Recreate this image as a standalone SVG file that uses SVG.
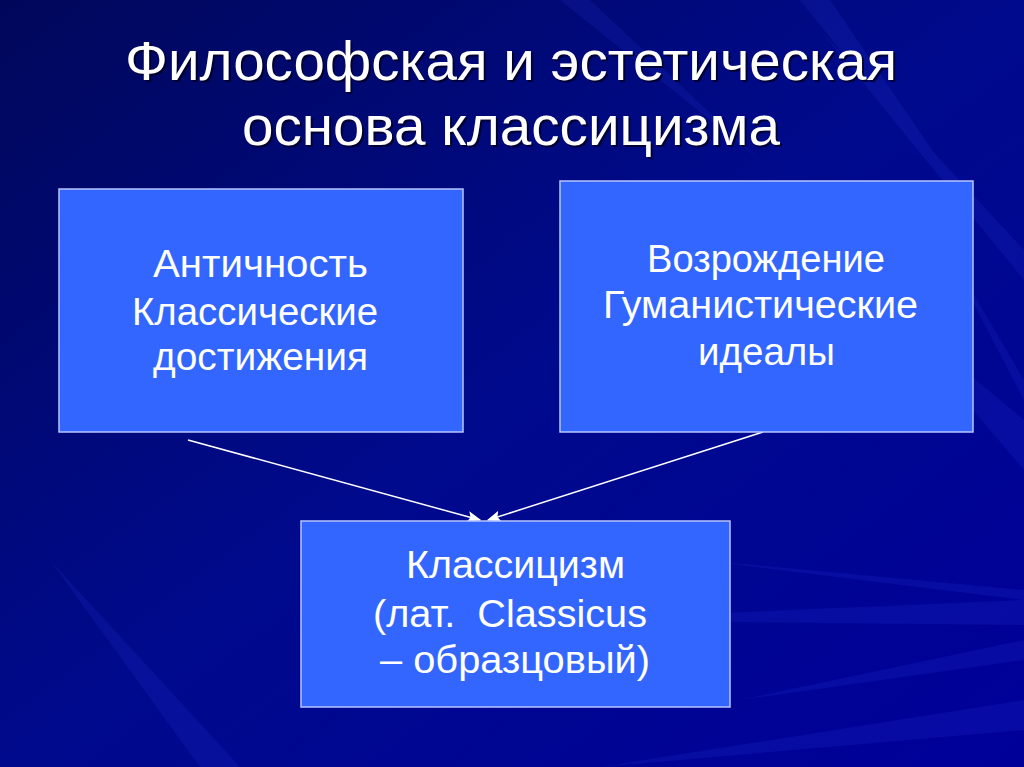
<svg xmlns="http://www.w3.org/2000/svg" width="1024" height="767" viewBox="0 0 1024 767">
<defs>
<linearGradient id="bg" x1="0" y1="0" x2="1" y2="1">
<stop offset="0" stop-color="#00075a"/>
<stop offset="0.5" stop-color="#000a8c"/>
<stop offset="1" stop-color="#000099"/>
</linearGradient>
<marker id="ah2" viewBox="0 0 10 10" refX="9" refY="5" markerWidth="14" markerHeight="14" markerUnits="userSpaceOnUse" orient="auto">
<path d="M0,1 L10,5 L0,9 L2,5 Z" fill="#ffffff"/>
</marker>
</defs>
<style>
.box{fill:#3366ff;stroke:#b8c4ff;stroke-width:1.5}
.t{font-family:"Liberation Sans",Arial,sans-serif;fill:#ffffff;text-anchor:middle}
.title{font-size:55px}
.sh{fill:#000020;opacity:0.8}
.body{font-size:38px}
.conn{stroke:#ffffff;stroke-width:1.5;fill:none}
.streak{fill:#3a4cff}
</style>
<rect width="1024" height="767" fill="url(#bg)"/>
<g id="background-streaks" opacity="0.12">
<polygon class="streak" points="1024,600 1024,625 560,620"/>
<polygon class="streak" points="1024,590 1024,600 700,560"/>
<polygon class="streak" points="1024,640 1024,660 740,700"/>
<polygon class="streak" points="1024,420 1024,470 880,300"/>
<polygon class="streak" points="1024,380 1024,400 930,220"/>
<polygon class="streak" points="1024,250 1024,280 820,30"/>
<polygon class="streak" points="800,0 830,0 1000,250"/>
<polygon class="streak" points="560,0 590,0 760,160"/>
<polygon class="streak" points="1024,700 1024,730 600,767"/>
<polygon class="streak" points="200,767 240,767 50,560"/>
</g>
<g id="title">
<text class="t title sh" x="513" y="82" textLength="772" lengthAdjust="spacingAndGlyphs">Философская и эстетическая</text>
<text class="t title" x="511" y="80" textLength="772" lengthAdjust="spacingAndGlyphs">Философская и эстетическая</text>
<text class="t title sh" x="513" y="147" textLength="538" lengthAdjust="spacingAndGlyphs">основа классицизма</text>
<text class="t title" x="511" y="145" textLength="538" lengthAdjust="spacingAndGlyphs">основа классицизма</text>
</g>
<g id="connectors">
<line class="conn" x1="188" y1="440" x2="480" y2="520" marker-end="url(#ah2)"/>
<line class="conn" x1="763" y1="432" x2="488" y2="520" marker-end="url(#ah2)"/>
</g>
<g id="node-antiquity">
<rect class="box" x="59" y="189" width="404" height="243"/>
<text class="t body" x="260.5" y="277" textLength="215" lengthAdjust="spacingAndGlyphs">Античность</text>
<text class="t body" x="255" y="325" textLength="246" lengthAdjust="spacingAndGlyphs">Классические</text>
<text class="t body" x="260.5" y="370" textLength="215" lengthAdjust="spacingAndGlyphs">достижения</text>
</g>
<g id="node-renaissance">
<rect class="box" x="560" y="181" width="413" height="251"/>
<text class="t body" x="766" y="272" textLength="238" lengthAdjust="spacingAndGlyphs">Возрождение</text>
<text class="t body" x="760.5" y="318" textLength="315" lengthAdjust="spacingAndGlyphs">Гуманистические</text>
<text class="t body" x="766.5" y="365" textLength="137" lengthAdjust="spacingAndGlyphs">идеалы</text>
</g>
<g id="node-classicism">
<rect class="box" x="301" y="521" width="429" height="186"/>
<text class="t body" x="515.5" y="578" textLength="219" lengthAdjust="spacingAndGlyphs">Классицизм</text>
<text class="t body" x="510" y="627" textLength="274" lengthAdjust="spacingAndGlyphs" xml:space="preserve">(лат.  Classicus</text>
<text class="t body" x="515" y="673" textLength="270" lengthAdjust="spacingAndGlyphs">– образцовый)</text>
</g>
</svg>
